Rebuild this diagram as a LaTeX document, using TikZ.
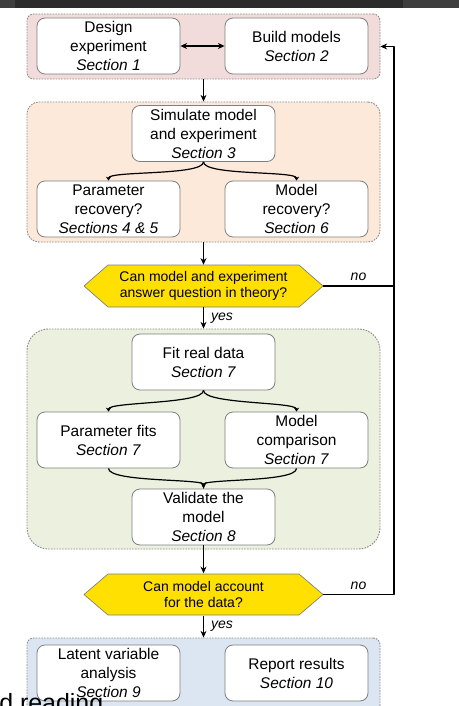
\documentclass[tikz,border=0pt]{standalone}
\usepackage{fontspec}
\setmainfont{Liberation Sans}
\usetikzlibrary{arrows.meta}

\definecolor{grppink}{HTML}{F2DCDB}
\definecolor{grporange}{HTML}{FDE9D9}
\definecolor{grpgreen}{HTML}{EBF1DE}
\definecolor{grpblue}{HTML}{DCE6F2}
\definecolor{qyellow}{HTML}{FFE000}
\definecolor{boxgray}{HTML}{7F7F7F}
\definecolor{grpline}{HTML}{8C8C8C}
\definecolor{topbar}{HTML}{2B2B2B}
\definecolor{topbarlight}{HTML}{3E3E3E}

\begin{document}
\begin{tikzpicture}[
    x={(0.75pt,0pt)},
    y={(0pt,-0.75pt)},
    >={Stealth[length=5pt,width=4.5pt]},
    line join=round,
    every node/.style={font=\fontsize{11.6}{14.25}\selectfont, align=center},
    box/.style={draw=boxgray, line width=0.6pt, rounded corners=6pt, fill=white,
        minimum width=107.25pt, minimum height=42pt, inner sep=0pt},
    grp/.style={draw=grpline, line width=0.7pt, dash pattern=on 1.2pt off 0.9pt,
        minimum width=264.75pt, inner sep=0pt},
    hexa/.style={draw=boxgray, line width=0.5pt, fill=qyellow},
    quest/.style={font=\fontsize{10.5}{12}\selectfont, minimum width=144pt,
        minimum height=31.5pt, inner sep=0pt},
    link/.style={line width=0.9pt},
    brtip/.style={-{Stealth[length=3pt,width=4pt]}},
    lab/.style={font=\fontsize{10.5}{12}\selectfont\itshape}
]

\useasboundingbox (0,0) rectangle (459,706);
\clip (0,0) rectangle (459,706);
\fill[white] (0,0) rectangle (459,706);

\fill[topbarlight] (0,0) rectangle (459,8);
\fill[topbar] (15,0) rectangle (403,8);

\coordinate (loop) at (394,0);

\node[grp, fill=grppink, rounded corners=5pt, minimum height=48.75pt] (g1) at (203.5,46.5) {};
\node[grp, fill=grporange, rounded corners=9pt, minimum height=105pt] (g2) at (203.5,172) {};
\node[grp, fill=grpgreen, rounded corners=16pt, minimum height=165pt] (g3) at (203.5,439) {};
\node[grp, fill=grpblue, rounded corners=5pt, minimum height=61.5pt] (g4) at (203.5,679) {};

\node[box] (design) at (108.5,46) {Design\\experiment\\\textit{Section 1}};
\node[box] (build) at (296.5,46) {Build models\\\textit{Section 2}};
\node[box] (sim) at (203.5,133.5) {Simulate model\\and experiment\\\textit{Section 3}};
\node[box] (precov) at (108.5,209) {Parameter\\recovery?\\\textit{Sections 4 \& 5}};
\node[box] (mrecov) at (296.5,209) {Model\\recovery?\\\textit{Section 6}};

\draw[hexa] (84,286) -- (108,265) -- (299,265) -- (323,286) coordinate (q1e)
    -- (299,307) -- (108,307) -- cycle;
\node[quest] (q1) at (203.5,286) {Can model and experiment\\answer question in theory?};

\node[box] (fit) at (203.5,362) {Fit real data\\\textit{Section 7}};
\node[box] (pfits) at (108.5,440) {Parameter fits\\\textit{Section 7}};
\node[box] (mcomp) at (296.5,440) {Model\\comparison\\\textit{Section 7}};
\node[box] (valid) at (203.5,517) {Validate the\\model\\\textit{Section 8}};

\draw[hexa] (84,594.5) -- (108,574) -- (299,574) -- (323,594.5) coordinate (q2e)
    -- (299,615) -- (108,615) -- cycle;
\node[quest] (q2) at (203.5,594.5) {Can model account\\for the data?};

\node[box] (latent) at (108.5,673) {Latent variable\\analysis\\\textit{Section 9}};
\node[box] (report) at (296.5,673) {Report results\\\textit{Section 10}};

\draw[link,<->] (design) -- (build);
\draw[link,->] (g1) -- (g2);
\draw[link,brtip] (sim.south) .. controls +(0,14) and +(0,-10) .. (precov.north);
\draw[link,brtip] (sim.south) .. controls +(0,14) and +(0,-10) .. (mrecov.north);
\draw[link,->] (g2) -- (q1);
\draw[link,->] (q1) -- node[lab,right,xshift=2pt] {yes} (g3);
\draw[link,->] (q1e) -- node[lab,above] {no} (q1e -| loop) |- (g1.east);

\draw[link,brtip] (fit.south) .. controls +(0,14) and +(0,-10) .. (pfits.north);
\draw[link,brtip] (fit.south) .. controls +(0,14) and +(0,-10) .. (mcomp.north);
\draw[link,->] (pfits.south) .. controls +(0,14) and +(0,-10) .. (valid.north);
\draw[link,->] (mcomp.south) .. controls +(0,14) and +(0,-10) .. (valid.north);
\draw[link,->] (valid) -- (q2);
\draw[link,->] (q2) -- node[lab,right,xshift=2pt] {yes} (g4);
\draw[link] (q2e) -- node[lab,above] {no} (q2e -| loop) -- (q1e -| loop);

\node[anchor=base west, inner sep=0pt, font=\fontsize{18.7}{20}\selectfont] (cut) at (-1,711) {d reading};

\end{tikzpicture}
\end{document}
